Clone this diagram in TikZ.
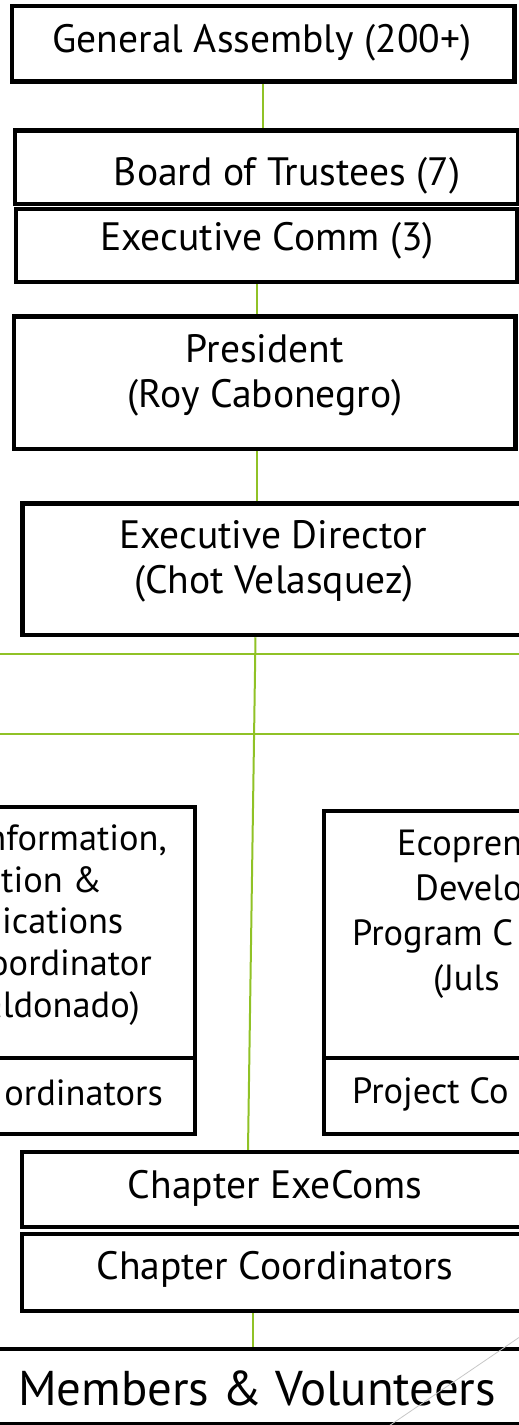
\documentclass[tikz,border=0pt]{standalone}
\usepackage{fontspec}
\setmainfont{PT Sans}
\definecolor{accent}{HTML}{90C226}
\newlength\tmpw
\begin{document}
\settowidth\tmpw{\fontsize{10pt}{12pt}\selectfont Chapter Coordinators}
\pgfmathsetmacro\fsA{10*357/\the\tmpw}
\pgfmathsetmacro\fsC{0.92*\fsA}
\settowidth\tmpw{\fontsize{10pt}{12pt}\selectfont Members \& Volunteers}
\pgfmathsetmacro\fsB{10*478/\the\tmpw}
\begin{tikzpicture}[x=1pt,y=-1pt,
  orgbox/.style={draw=black, line width=4.5pt, minimum width=#1, inner sep=0pt},
  link/.style={draw=accent, line width=2pt},
  txt/.style={inner sep=0pt, anchor=base, font=\fontsize{\fsA pt}{44pt}\selectfont},
  stxt/.style={inner sep=0pt, font=\fontsize{\fsC pt}{40pt}\selectfont},
  txtr/.style={stxt, anchor=base east},
  txtl/.style={stxt, anchor=base west},
  bigtxt/.style={inner sep=0pt, anchor=base, font=\fontsize{\fsB pt}{44pt}\selectfont}]
\useasboundingbox (0,0) rectangle (519,1425);
\clip (0,0) rectangle (519,1425);
% boxes
\node[orgbox=502.5, minimum height=75.7] (ga) at (263.25,43.65) {};
\node[orgbox=503, minimum height=73.3] (bot) at (266.5,167.35) {};
\node[orgbox=501, minimum height=73] (ec) at (266.5,245.5) {};
\node[orgbox=501.5, minimum height=132.5] (pres) at (264.75,382.75) {};
\node[orgbox=540, minimum height=131.5] (ed) at (292.5,569.25) {};
\node[orgbox=395, minimum height=251] (lu) at (-2.5,932.5) {};
\node[orgbox=395, minimum height=76] (ll) at (-2.5,1096) {};
\node[orgbox=396, minimum height=247] (ru) at (522,934.5) {};
\node[orgbox=396, minimum height=76] (rl) at (522,1096) {};
\node[orgbox=538, minimum height=75] (ce) at (291,1189.5) {};
\node[orgbox=538, minimum height=77] (cc) at (291,1272.5) {};
\node[orgbox=580, minimum height=75] (mv) at (260,1386.5) {};
% texts
\node[txt] (tga) at (262,52) {General Assembly (200+)};
\node[txt] (tbot) at (287,185) {Board of Trustees (7)};
\node[txt] (tec) at (267,250) {Executive Comm (3)};
\node[txt] (tp1) at (265,362) {President};
\node[txt] (tp2) at (265,407) {(Roy Cabonegro)};
\node[txt] (te1) at (273,548) {Executive Director};
\node[txt] (te2) at (274,593) {(Chot Velasquez)};
\node[txtr] (l1) at (167,850) {nformation,};
\node[txtl] (l2) at (1,892) {tion \&};
\node[txtl] (l3) at (2,933) {ications};
\node[txtr] (l4) at (152,975) {oordinator};
\node[txtr] (l5) at (140,1017) {aldonado)};
\node[txtr] (l6) at (163,1105) {ordinators};
\node[txtl] (r1) at (397,855) {Ecopren};
\node[txtl] (r2) at (415,900) {Develo};
\node[txtl] (r3) at (352,945) {Program C};
\node[txtl] (r4) at (433,990) {(Juls};
\node[txtl] (r5) at (352,1103) {Project Co};
\node[txt] (tce) at (275,1198) {Chapter ExeComs};
\node[txt] (tcc) at (275,1279) {Chapter Coordinators};
\node[bigtxt] (tmv) at (257,1405) {Members \& Volunteers};
% connectors
\coordinate (xa) at (263,0);
\coordinate (xb) at (257,0);
\coordinate (xc) at (255.5,0);
\coordinate (xd) at (248,0);
\coordinate (xe) at (253,0);
\draw[link] (ga.south -| xa) -- (bot.north -| xa);
\draw[link] (ec.south -| xb) -- (pres.north -| xb);
\draw[link] (pres.south -| xb) -- (ed.north -| xb);
\draw[link] (ed.south -| xc) -- (ce.north -| xd);
\draw[link] (cc.south -| xe) -- (mv.north -| xe);
\coordinate (h1l) at (-10,654);
\coordinate (h1r) at (530,654);
\coordinate (h2l) at (-10,734);
\coordinate (h2r) at (530,734);
\draw[link] (h1l) -- (h1r);
\draw[link] (h2l) -- (h2r);
% decoration
\draw[black!22, line width=0.8pt] (530,1330) -- (380,1432);
\end{tikzpicture}
\end{document}
